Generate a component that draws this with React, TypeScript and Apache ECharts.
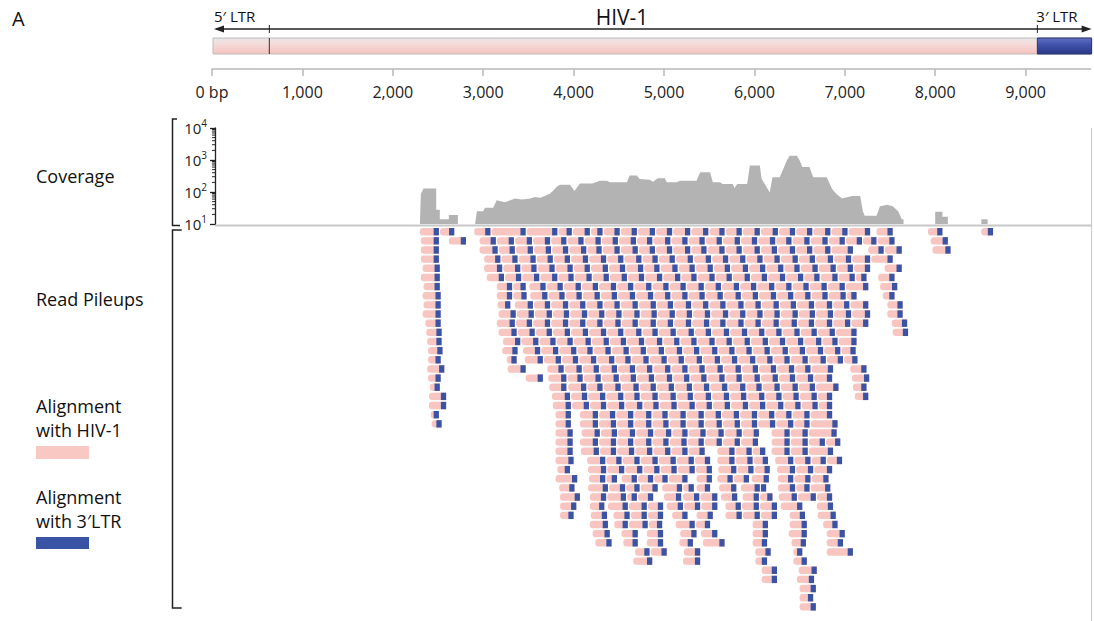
import React, { useEffect, useRef } from 'react';
import * as echarts from 'echarts';

// ---------- genome annotation ----------
const GENOME_LENGTH = 9719;
const LTR5_END = 634;
const LTR3_START = 9130;
const AXIS_TICKS = [0, 1000, 2000, 3000, 4000, 5000, 6000, 7000, 8000, 9000];
const COV_DECADES = [10, 100, 1000, 10000];

// ---------- coverage (bp, reads) ----------
const COV_SEG_1 = [[2300, 10], [2310, 85], [2340, 128], [2480, 128], [2480, 28], [2520, 28], [2520, 14], [2620, 14], [2620, 19], [2720, 19], [2720, 10]];
const COV_SEG_2 = [
  [2910, 10], [2930, 25], [3000, 25], [3020, 32], [3110, 32], [3150, 55], [3240, 48], [3300, 55], [3350, 63], [3430, 58],
  [3520, 63], [3570, 70], [3630, 66], [3680, 75], [3740, 90], [3770, 107], [3820, 150], [3850, 170], [3960, 170], [4010, 107],
  [4070, 185], [4210, 185], [4290, 224], [4370, 224], [4400, 200], [4590, 200], [4620, 325], [4700, 325], [4730, 257], [4840, 240],
  [4880, 210], [4930, 268], [5010, 268], [5030, 200], [5140, 200], [5180, 224], [5360, 224], [5400, 417], [5510, 417], [5540, 200],
  [5620, 200], [5650, 178], [5760, 178], [5780, 130], [5810, 178], [5920, 178], [5950, 676], [6060, 676], [6080, 257], [6170, 96],
  [6200, 288], [6280, 288], [6360, 980], [6390, 1350], [6470, 1350], [6500, 980], [6530, 600], [6610, 600], [6650, 288], [6800, 288],
  [6860, 125], [6910, 85], [6970, 63], [7080, 75], [7170, 75], [7200, 25], [7220, 18], [7350, 18], [7390, 36], [7470, 40],
  [7530, 36], [7590, 25], [7630, 14], [7650, 14], [7650, 10]
];
const COV_SEG_3 = [[8000, 10], [8000, 24], [8080, 24], [8080, 17], [8140, 17], [8140, 10]];
const COV_SEG_4 = [[8510, 10], [8510, 14], [8580, 14], [8580, 10]];

// ---------- read pileups: each row = chains [start, end1, end2, ...] (bp) ----------
const READS_TOP: number[][][] = [
  [[2300, 2510, 2680], [2900, 3080, 3470, 3820, 3980, 4180, 4320, 4510, 4700, 4900, 5090, 5290, 5490, 5670, 5860, 6060, 6260, 6450, 6640, 6840, 7030, 7280], [7350, 7530], [7920, 8080], [8510, 8640]],
  [[2310, 2510], [2620, 2810], [2960, 3140, 3340, 3540, 3740, 3920, 4110, 4300, 4490, 4690, 4870, 5070, 5260, 5450, 5640, 5840, 6030, 6230, 6410, 6610, 6810, 7000, 7190, 7350, 7550], [7950, 8140]],
  [[2310, 2510], [2960, 3160, 3350, 3550, 3750, 3940, 4140, 4310, 4510, 4710, 4900, 5090, 5290, 5470, 5670, 5860, 6060, 6250, 6450, 6640, 6840, 7090], [7260, 7430, 7630], [7970, 8170]],
  [[2310, 2510], [3010, 3190, 3380, 3580, 3770, 3960, 4160, 4360, 4550, 4750, 4930, 5120, 5320, 5520, 5710, 5900, 6090, 6280, 6480, 6670, 6870, 7070, 7280, 7530]],
  [[2330, 2520], [3010, 3210, 3410, 3590, 3790, 3990, 4180, 4380, 4570, 4770, 4950, 5150, 5340, 5540, 5730, 5930, 6120, 6320, 6500, 6700, 6900, 7090, 7280], [7440, 7630]],
  [[2310, 2520], [3040, 3230, 3420, 3620, 3820, 4000, 4200, 4390, 4590, 4780, 4980, 5180, 5360, 5560, 5750, 5950, 6140, 6340, 6540, 6720, 6920, 7110, 7240], [7370, 7550]],
  [[2340, 2520], [3150, 3320, 3470], [3510, 3690, 3880, 4080, 4270, 4470, 4660, 4860, 5050, 5240, 5440, 5630, 5830, 6020, 6220, 6410, 6600, 6800, 7000, 7260], [7390, 7580]],
  [[2330, 2530], [3150, 3320, 3480], [3520, 3710, 3900, 4090, 4290, 4480, 4680, 4880, 5070, 5260, 5450, 5650, 5850, 6040, 6240, 6430, 6620, 6810, 7010, 7130], [7420, 7550]],
  [[2340, 2530], [3160, 3300], [3350, 3550, 3740, 3940, 4130, 4320, 4510, 4710, 4910, 5100, 5300, 5490, 5680, 5880, 6070, 6270, 6460, 6660, 6860, 7050, 7260], [7470, 7640]],
  [[2330, 2530], [3170, 3360, 3560, 3760, 3950, 4150, 4340, 4530, 4730, 4920, 5120, 5310, 5510, 5710, 5900, 6090, 6280, 6480, 6670, 6870, 7070, 7280], [7470, 7640]],
  [[2360, 2530], [3150, 3350, 3540, 3740, 3940, 4130, 4320, 4520, 4710, 4910, 5100, 5300, 5500, 5680, 5880, 6070, 6270, 6470, 6660, 6860, 7060, 7260], [7520, 7690]],
  [[2370, 2540], [3170, 3370, 3570, 3760, 3960, 4160, 4360, 4550, 4750, 4930, 5130, 5330, 5520, 5720, 5920, 6110, 6300, 6500, 6690, 6890, 7130], [7530, 7700]],
  [[2380, 2540], [3220, 3410, 3610, 3800, 3990, 4190, 4390, 4580, 4780, 4980, 5170, 5360, 5560, 5750, 5950, 6150, 6340, 6540, 6740, 6920, 7130]],
  [[2390, 2550], [3210, 3380], [3440, 3630, 3830, 4030, 4210, 4410, 4610, 4800, 5000, 5200, 5390, 5590, 5780, 5970, 6170, 6370, 6560, 6760, 6950, 7120]],
];
const READS_MID: number[][][] = [
  [[2390, 2530], [3260, 3370], [3460, 3660, 3860, 4050, 4250, 4450, 4630, 4830, 5030, 5220, 5420, 5620, 5810, 6010, 6200, 6390, 6590, 6790, 6980, 7140]],
  [[2380, 2570], [3270, 3470], [3710, 3890, 4090, 4280, 4480, 4680, 4870, 5070, 5260, 5450, 5650, 5850, 6040, 6240, 6440, 6620, 6870], [7060, 7240]],
  [[2390, 2530], [3470, 3660], [3720, 3920, 4100, 4300, 4500, 4690, 4890, 5090, 5280, 5470, 5670, 5860, 6060, 6260, 6450, 6650, 6860], [7080, 7270]],
  [[2410, 2520], [3730, 3920], [3940, 4140, 4320, 4520, 4720, 4910, 5110, 5310, 5500, 5700, 5900, 6080, 6280, 6480, 6670, 6930], [7090, 7240]],
  [[2400, 2590], [3760, 3960, 4150, 4350, 4550, 4730, 4930, 5130, 5320, 5520, 5720, 5910, 6110, 6300, 6490, 6690, 6860], [7110, 7260]],
  [[2400, 2590], [3770, 3970, 4170, 4360, 4560, 4760, 4940, 5140, 5340, 5530, 5730, 5930, 6120, 6320, 6510, 6700, 6860]],
  [[2420, 2510], [3800, 3970], [4070, 4270, 4460, 4660, 4860, 5040, 5240, 5440, 5630, 5830, 6030, 6220, 6410, 6610, 6860]],
  [[2430, 2540], [3800, 3970], [4070, 4270, 4470, 4660, 4860, 5050, 5240, 5440, 5640, 5840, 6030, 6230, 6430, 6610, 6920]],
  [[3800, 3990], [4090, 4290, 4480, 4680, 4880, 5080, 5260, 5460, 5660, 5860, 6050], [6190, 6390, 6590, 6910]],
  [[3800, 3990], [4070, 4270, 4470, 4660, 4860, 5050, 5250, 5440, 5640, 5840, 6040], [6190, 6390, 6590, 6780, 6950]],
  [[3800, 3990], [4080, 4280, 4470, 4670, 4870, 5070, 5260, 5450], [5590, 5780, 5970, 6120], [6190, 6390, 6590, 6870]],
  [[3800, 4000], [4150, 4350, 4530, 4730, 4930, 5130, 5330, 5510], [5590, 5780, 5980, 6150], [6230, 6430, 6620, 6790, 6970]],
  [[3820, 3960], [4160, 4360, 4560, 4760, 4950, 5140, 5340, 5530], [5600, 5800, 5990, 6170], [6250, 6450, 6650, 6860]],
  [[3800, 4040], [4170, 4350, 4480], [4530, 4700, 4880, 5040, 5260], [5360, 5530], [5590, 5760, 5940], [5970, 6160], [6260, 6430, 6620, 6820]],
];
const READS_BOTTOM: number[][][] = [
  [[3840, 4010], [4160, 4380, 4570, 4730, 4930], [4980, 5200, 5330], [5360, 5510], [5610, 5800], [5850, 6060, 6130], [6260, 6450, 6610, 6840]],
  [[3850, 4070], [4180, 4360, 4580, 4700, 4880], [5000, 5190], [5210, 5390, 5590], [5630, 5810], [5870, 6050, 6200], [6270, 6470, 6680, 6860]],
  [[3850, 4030], [4180, 4340], [4380, 4600, 4810, 4990], [5030, 5210, 5400, 5590], [5680, 5850, 6050, 6250], [6290, 6530], [6690, 6870]],
  [[3850, 4000], [4190, 4370], [4440, 4620, 4810, 4990], [5090, 5260], [5360, 5540], [5680, 5860, 6060, 6250], [6390, 6560], [6700, 6900]],
  [[4180, 4380], [4450, 4600, 4820, 4980], [5130, 5340, 5510], [5980, 6150], [6390, 6580], [6760, 6920]],
  [[4210, 4400], [4530, 4710], [4810, 4990], [5180, 5360], [5410, 5590], [5980, 6150], [6380, 6580], [6800, 7000]],
  [[4240, 4420], [4550, 4710], [4810, 4990], [5170, 5320], [5430, 5670], [5980, 6140], [6410, 6570], [6800, 6980]],
  [[4680, 4840, 5030], [5220, 5400], [6010, 6180], [6430, 6530], [6800, 7090]],
  [[4660, 4870], [5210, 5400], [6010, 6140], [6430, 6580]],
  [[6080, 6250], [6490, 6690]],
  [[6080, 6250], [6470, 6660]],
  [[6500, 6680]],
  [[6500, 6650]],
  [[6500, 6680]],
];

const PINK = '#f8c5c1';
const BLUE = '#3a54a5';
const BLUE_BP = 58;
const READ_GAP = 12;
const FONT = '"Open Sans", "Noto Sans", sans-serif';

export default function App() {
  const ref = useRef<HTMLDivElement>(null);

  useEffect(() => {
    const el = ref.current;
    if (!el) return;
    const chart = echarts.init(el, null, { renderer: 'svg' });

    const allRows = [...READS_TOP, ...READS_MID, ...READS_BOTTOM];
    const readItems: number[][] = [];
    allRows.forEach((row, r) => {
      row.forEach((chain) => {
        for (let k = 1; k < chain.length; k++) {
          const start = k === 1 ? chain[0] : chain[k - 1] + READ_GAP;
          readItems.push([start, chain[k], r]);
        }
      });
    });

    const fmtBp = (v: number) => (v === 0 ? '0 bp' : String(v).replace(/\B(?=(\d{3})+(?!\d))/g, ','));

    const covSeries = [COV_SEG_1, COV_SEG_2, COV_SEG_3, COV_SEG_4].map((seg) => ({
      type: 'line',
      xAxisIndex: 1,
      yAxisIndex: 1,
      data: seg,
      showSymbol: false,
      symbol: 'none',
      lineStyle: { width: 0 },
      areaStyle: { color: '#b3b3b3', opacity: 1 },
      silent: true,
    }));

    chart.setOption({
      animation: false,
      grid: [
        { left: 212, right: 3.4, top: 68, height: 1 },
        { left: 212, right: 3.4, top: 128, height: 96 },
        { left: 212, right: 3.4, top: 227.1, height: 393.5 },
      ],
      xAxis: [
        {
          gridIndex: 0, type: 'value', min: 0, max: GENOME_LENGTH, interval: 1000, position: 'bottom',
          axisLine: { lineStyle: { color: '#b8b8b8', width: 1.5 } },
          axisTick: { length: 7, lineStyle: { color: '#b8b8b8', width: 1.5 }, customValues: AXIS_TICKS },
          axisLabel: { customValues: AXIS_TICKS, formatter: fmtBp, fontSize: 16, color: '#222', margin: 15, fontFamily: FONT },
          splitLine: { show: false },
        },
        { gridIndex: 1, type: 'value', min: 0, max: GENOME_LENGTH, show: false },
        { gridIndex: 2, type: 'value', min: 0, max: GENOME_LENGTH, show: false },
      ],
      yAxis: [
        { gridIndex: 0, type: 'value', show: false },
        {
          gridIndex: 1, type: 'log', logBase: 10, min: 10, max: 10000, offset: -3,
          axisLine: { show: true, lineStyle: { color: '#222', width: 1.3 } },
          axisTick: { show: true, length: 5, lineStyle: { color: '#222', width: 1.3 } },
          minorTick: { show: false },
          splitLine: { show: false },
          axisLabel: {
            margin: 8,
            formatter: (v: number) => `{b|10}{s|${Math.round(Math.log10(v))}}`,
            rich: {
              b: { fontSize: 15, color: '#222', fontFamily: FONT, verticalAlign: 'middle' },
              s: { fontSize: 10, color: '#222', fontFamily: FONT, verticalAlign: 'middle', padding: [0, 0, 10, 0] },
            },
          },
        },
        { gridIndex: 2, type: 'value', min: -0.5, max: 42.5, inverse: true, show: false },
      ],
      series: [
        ...covSeries,
        {
          type: 'custom',
          xAxisIndex: 2,
          yAxisIndex: 2,
          data: readItems,
          encode: { x: [0, 1], y: 2 },
          silent: true,
          renderItem: (_params: any, api: any) => {
            const r = api.value(2);
            const p0 = api.coord([api.value(0), r]);
            const p1 = api.coord([api.value(1), r]);
            const pb = api.coord([api.value(1) - BLUE_BP, r]);
            const h = 7.4;
            return {
              type: 'group',
              children: [
                { type: 'rect', shape: { x: p0[0], y: p0[1] - h / 2, width: Math.max(1, p1[0] - p0[0]), height: h, r: [3, 0, 0, 3] }, style: { fill: PINK } },
                { type: 'rect', shape: { x: pb[0], y: p0[1] - h / 2, width: Math.max(1, p1[0] - pb[0]), height: h }, style: { fill: BLUE } },
              ],
            };
          },
        },
      ],
    });

    const X = (bp: number) => chart.convertToPixel({ xAxisIndex: 0 }, bp) as number;
    const Yc = (v: number) => chart.convertToPixel({ yAxisIndex: 1 }, v) as number;
    const x0 = X(0);
    const xEnd = X(GENOME_LENGTH);
    const x5 = X(LTR5_END);
    const x3 = X(LTR3_START);
    const axisX = x0 + 3;
    const yTop = Yc(10000);
    const yBot = Yc(10);
    const arrowY = 29;

    const minorTicks: any[] = [];
    COV_DECADES.slice(0, 3).forEach((d) => {
      for (let m = 2; m <= 9; m++) {
        const y = Yc(d * m);
        minorTicks.push({ type: 'line', shape: { x1: axisX - 3, y1: y, x2: axisX, y2: y }, style: { stroke: '#222', lineWidth: 1 } });
      }
    });

    const txt = (text: string, x: number, y: number, size: number, align = 'left') => ({
      type: 'text', x, y,
      style: { text, fontSize: size, fontFamily: FONT, fill: '#111', textAlign: align, textVerticalAlign: 'middle' },
    });

    chart.setOption({
      graphic: [
        txt('A', 12, 18, 20),
        { type: 'line', shape: { x1: x0 + 4, y1: arrowY, x2: xEnd - 4, y2: arrowY }, style: { stroke: '#222', lineWidth: 1.3 } },
        { type: 'polygon', shape: { points: [[x0 + 2, arrowY], [x0 + 12, arrowY - 3.5], [x0 + 12, arrowY + 3.5]] }, style: { fill: '#222' } },
        { type: 'polygon', shape: { points: [[xEnd + 1, arrowY], [xEnd - 9, arrowY - 3.5], [xEnd - 9, arrowY + 3.5]] }, style: { fill: '#222' } },
        { type: 'line', shape: { x1: x5, y1: arrowY - 4, x2: x5, y2: arrowY + 4 }, style: { stroke: '#222', lineWidth: 1 } },
        { type: 'line', shape: { x1: x3, y1: arrowY - 4, x2: x3, y2: arrowY + 4 }, style: { stroke: '#222', lineWidth: 1 } },
        txt('5\u2032 LTR', x0 + 2, 16, 15),
        txt('3\u2032 LTR', x3 - 1, 16, 15),
        txt('HIV-1', 622, 17, 21, 'center'),
        {
          type: 'rect', shape: { x: x0 + 1, y: 38, width: xEnd - x0, height: 16 },
          style: {
            fill: new echarts.graphic.LinearGradient(0, 0, 0, 1, [
              { offset: 0, color: '#e6e6e6' }, { offset: 0.3, color: '#f4dedc' }, { offset: 1, color: '#f6c2be' },
            ]),
            stroke: '#bdbdbd', lineWidth: 1,
          },
        },
        {
          type: 'rect', shape: { x: x3, y: 38, width: xEnd - x3 + 1, height: 16 },
          style: {
            fill: new echarts.graphic.LinearGradient(0, 0, 0, 1, [
              { offset: 0, color: '#6170c4' }, { offset: 0.45, color: '#3e50a8' }, { offset: 1, color: '#2b3886' },
            ]),
            stroke: '#2a356f', lineWidth: 1,
          },
        },
        { type: 'line', shape: { x1: x5, y1: 38, x2: x5, y2: 54 }, style: { stroke: '#333', lineWidth: 1 } },
        { type: 'polyline', shape: { points: [[177, yTop - 9], [172.5, yTop - 9], [172.5, yBot + 1.5], [180, yBot + 1.5]] }, style: { stroke: '#222', lineWidth: 1.5, fill: 'none' } },
        ...minorTicks,
        { type: 'line', shape: { x1: axisX, y1: yBot + 1.5, x2: xEnd + 1, y2: yBot + 1.5 }, style: { stroke: '#c8c8c8', lineWidth: 2 } },
        { type: 'line', shape: { x1: xEnd + 1, y1: yTop, x2: xEnd + 1, y2: 621 }, style: { stroke: '#c8c8c8', lineWidth: 1 } },
        { type: 'polyline', shape: { points: [[181.7, 230], [172.5, 230], [172.5, 608], [181.7, 608]] }, style: { stroke: '#222', lineWidth: 1.5, fill: 'none' } },
        txt('Coverage', 36, 176, 18),
        txt('Read Pileups', 36, 299, 18),
        txt('Alignment', 36, 406, 18),
        txt('with HIV-1', 36, 430, 18),
        { type: 'rect', shape: { x: 36, y: 446, width: 53, height: 13 }, style: { fill: '#f9c8c3' } },
        txt('Alignment', 36, 497, 18),
        txt('with 3\u2032LTR', 36, 521, 18),
        { type: 'rect', shape: { x: 36, y: 537, width: 53, height: 12 }, style: { fill: BLUE } },
      ],
    });

    return () => chart.dispose();
  }, []);

  return <div ref={ref} style={{ position: 'absolute', left: 0, top: 0, width: 1094, height: 621 }} />;
}
